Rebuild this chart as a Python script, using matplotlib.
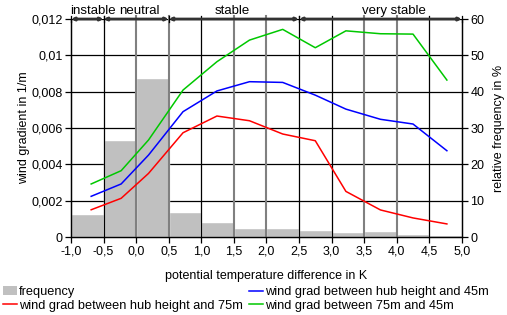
import numpy as np
import matplotlib
matplotlib.use("Agg")
import matplotlib.pyplot as plt
from matplotlib.ticker import FuncFormatter, MultipleLocator
from matplotlib.patches import Patch
from matplotlib.lines import Line2D

plt.rcParams['font.family'] = ['Liberation Sans', 'DejaVu Sans']
plt.rcParams['font.size'] = 9

# data
bin_centers = [-0.75, -0.25, 0.25, 0.75, 1.25, 1.75, 2.25, 2.75, 3.25, 3.75, 4.25, 4.75]
frequency = [6.3, 26.7, 43.8, 6.9, 4.1, 2.5, 2.5, 1.9, 1.4, 1.7, 0.8, 0.5]

x_mean = [-0.69, -0.23, 0.19, 0.72, 1.24, 1.74, 2.25, 2.75, 3.22, 3.75, 4.25, 4.77]
grad_hub_75 = [0.0015, 0.00213, 0.0035, 0.00574, 0.00666, 0.0064, 0.00567, 0.0053,
               0.00251, 0.00149, 0.00105, 0.00072]
grad_hub_45 = [0.00224, 0.00292, 0.00451, 0.0069, 0.00804, 0.00855, 0.00851, 0.00781,
               0.00704, 0.00648, 0.00622, 0.00475]
grad_75_45 = [0.00292, 0.00365, 0.00534, 0.00809, 0.00965, 0.01084, 0.01143, 0.01042,
              0.01135, 0.01119, 0.01117, 0.00864]

class_edges = [-1.0, -0.5, 0.5, 2.5, 5.0]
class_names = ["instable", "neutral", "stable", "very stable"]
class_label_x = [-0.66, 0.05, 1.47, 3.96]

black_grid = [-0.5, 1.0, 2.5, 3.0, 4.5]
gray_grid = [0.0, 0.5, 1.5, 2.0, 3.5, 4.0]

fig = plt.figure(figsize=(5.07, 3.15), dpi=100)
ax = fig.add_axes([0.140, 0.2476, 0.771, 0.692])
ax2 = ax.twinx()
ax.set_zorder(ax2.get_zorder() + 1)
ax.patch.set_visible(False)

# frequency bars on the right axis, horizontal grid behind them
ax2.set_axisbelow(True)
ax2.yaxis.grid(True, color='black', lw=0.9)
ax2.bar(bin_centers, frequency, width=0.5, color='#c0c0c0', edgecolor='white', lw=1.0)
ax2.set_ylim(0, 60)
ax2.yaxis.set_major_locator(MultipleLocator(10))
ax2.set_ylabel("relative frequency in %", labelpad=6)

# vertical lines
for v in black_grid:
    ax.axvline(v, ymin=0, ymax=1.012, color='black', lw=0.9, zorder=1, clip_on=False)
for v in gray_grid:
    ax.axvline(v, ymin=0, ymax=1.012, color='#808080', lw=1.5, zorder=1, clip_on=False)

ax.plot(x_mean, grad_hub_45, color='#0000ff', lw=1.1, zorder=3)
ax.plot(x_mean, grad_hub_75, color='#ff0000', lw=1.1, zorder=3)
ax.plot(x_mean, grad_75_45, color='#00c800', lw=1.1, zorder=3)

ax.set_xlim(-1.0, 5.0)
ax.set_ylim(0, 0.012)
ax.xaxis.set_major_locator(MultipleLocator(0.5))
ax.yaxis.set_major_locator(MultipleLocator(0.002))
ax.xaxis.set_major_formatter(FuncFormatter(lambda v, p: f"{v:.1f}".replace('.', ',')))
ax.yaxis.set_major_formatter(FuncFormatter(lambda v, p: "0" if abs(v) < 1e-9 else f"{v:g}".replace('.', ',')))
ax.set_xlabel("potential temperature difference in K", labelpad=9)
ax.set_ylabel("wind gradient in 1/m", labelpad=1)

for a in (ax, ax2):
    a.tick_params(length=4, width=0.9, pad=2, color='black')
    for s in a.spines.values():
        s.set_linewidth(0.9)
    a.spines['top'].set_visible(False)

# stability classes at the top
for i in range(len(class_names)):
    ax.annotate("", xy=(class_edges[i], 0.012), xytext=(class_edges[i + 1], 0.012),
                arrowprops=dict(arrowstyle='<|-|>', color='#333333', lw=2.0,
                                mutation_scale=4, shrinkA=0, shrinkB=0),
                annotation_clip=False, zorder=4)
    ax.text(class_label_x[i], 1.0215, class_names[i], ha='center', va='baseline',
            transform=ax.get_xaxis_transform(), fontsize=9.5)
for e in class_edges:
    ax.axvline(e, ymin=0.985, ymax=1.012, color='black', lw=0.9, clip_on=False, zorder=5)

handles = [Patch(facecolor='#c0c0c0', edgecolor='none'),
           Line2D([], [], color='#ff0000', lw=1.1),
           Line2D([], [], color='#0000ff', lw=1.1),
           Line2D([], [], color='#00c800', lw=1.1)]
labels = ["frequency", "wind grad between hub height and 75m",
          "wind grad between hub height and 45m", "wind grad between 75m and 45m"]
fig.legend(handles, labels, ncol=2, loc='lower left', bbox_to_anchor=(0.0, 0.0),
           frameon=False, borderpad=0.25, borderaxespad=0, handlelength=1.1,
           handletextpad=0.15, columnspacing=0.45, labelspacing=0.12, fontsize=9.2)

fig.savefig("out.png", dpi=100)
